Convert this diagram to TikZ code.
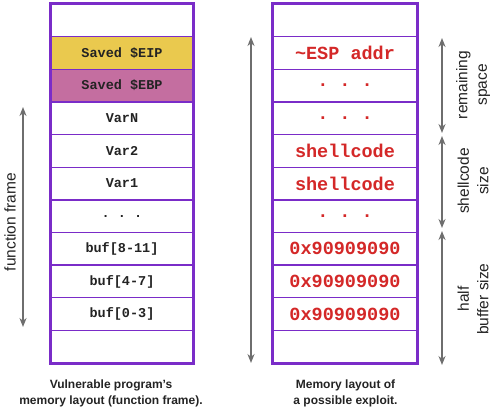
\documentclass[tikz,border=0pt]{standalone}
\usepackage{fontspec}
\setmainfont{Liberation Sans}
\newfontfamily\cellmono{Liberation Mono}
\usetikzlibrary{arrows.meta}
\definecolor{frameviolet}{RGB}{122,44,200}
\definecolor{eipyellow}{RGB}{234,201,78}
\definecolor{ebppink}{RGB}{196,110,160}
\definecolor{exploitred}{RGB}{212,40,40}
\definecolor{arrowgray}{RGB}{110,110,110}
\definecolor{inkdark}{RGB}{35,35,35}
\tikzset{
  cell/.style={draw=frameviolet, line width=1.4bp, fill=white, inner sep=0pt,
    minimum height=32.64bp, text=inkdark,
    font=\cellmono\bfseries\fontsize{13.5bp}{15bp}\selectfont},
  lcell/.style={cell, minimum width=142bp},
  rcell/.style={cell, minimum width=144bp, text=exploitred,
    font=\cellmono\bfseries\fontsize{18.5bp}{20bp}\selectfont},
  span/.style={draw=arrowgray, line width=1.8bp,
    {Stealth[length=9bp,width=7bp]}-{Stealth[length=9bp,width=7bp]}},
  sidelabel/.style={rotate=90, align=center, text=inkdark,
    font=\fontsize{15.5bp}{19.5bp}\selectfont},
  caption/.style={align=center, text=inkdark,
    font=\bfseries\fontsize{12bp}{16bp}\selectfont}
}
\begin{document}
\begin{tikzpicture}[x=1bp,y=-1bp]
\useasboundingbox (0,0) rectangle (499,415);
% left stack
\node[lcell] (l1) at (122,20.32) {};
\node[lcell, fill=eipyellow] (l2) at (122,52.96) {Saved \$EIP};
\node[lcell, fill=ebppink] (l3) at (122,85.6) {Saved \$EBP};
\node[lcell] (l4) at (122,118.24) {VarN};
\node[lcell] (l5) at (122,150.88) {Var2};
\node[lcell] (l6) at (122,183.52) {Var1};
\node[lcell] (l7) at (122,216.16) {.~.~.};
\node[lcell] (l8) at (122,248.8) {buf[8-11]};
\node[lcell] (l9) at (122,281.44) {buf[4-7]};
\node[lcell] (l10) at (122,314.08) {buf[0-3]};
\node[lcell] (l11) at (122,346.72) {};
\draw[frameviolet, line width=1.8bp] (l1.north west) rectangle (l11.south east);
% right stack
\node[rcell] (r1) at (345,20.32) {};
\node[rcell] (r2) at (345,52.96) {\textasciitilde ESP addr};
\node[rcell] (r3) at (345,85.6) {.~.~.};
\node[rcell] (r4) at (345,118.24) {.~.~.};
\node[rcell] (r5) at (345,150.88) {shellcode};
\node[rcell] (r6) at (345,183.52) {shellcode};
\node[rcell] (r7) at (345,216.16) {.~.~.};
\node[rcell] (r8) at (345,248.8) {0x90909090};
\node[rcell] (r9) at (345,281.44) {0x90909090};
\node[rcell] (r10) at (345,314.08) {0x90909090};
\node[rcell] (r11) at (345,346.72) {};
\draw[frameviolet, line width=1.8bp] (r1.north west) rectangle (r11.south east);
% arrows
\coordinate (fa) at (23,107);
\coordinate (fb) at (23,327);
\draw[span] (fa) -- (fb);
\node[sidelabel] (flabel) at (10,222) {function frame};
\coordinate (ma) at (251,37);
\coordinate (mb) at (251,363);
\draw[span] (ma) -- (mb);
\coordinate (ra) at (442,38);
\coordinate (rb) at (442,133);
\coordinate (sa) at (442,136);
\coordinate (sb) at (442,228);
\coordinate (ha) at (442,231);
\coordinate (hb) at (442,365);
\draw[span] (ra) -- (rb);
\draw[span] (sa) -- (sb);
\draw[span] (ha) -- (hb);
\node[sidelabel] (rlabel) at (473,85) {remaining\\space};
\node[sidelabel] (slabel) at (473,181) {shellcode\\size};
\node[sidelabel] (hlabel) at (473,299) {half\\buffer size};
% captions
\node[caption] (lcap) at (111,393) {Vulnerable program's\\memory layout (function frame).};
\node[caption] (rcap) at (345.5,393) {Memory layout of\\a possible exploit.};
\end{tikzpicture}
\end{document}
